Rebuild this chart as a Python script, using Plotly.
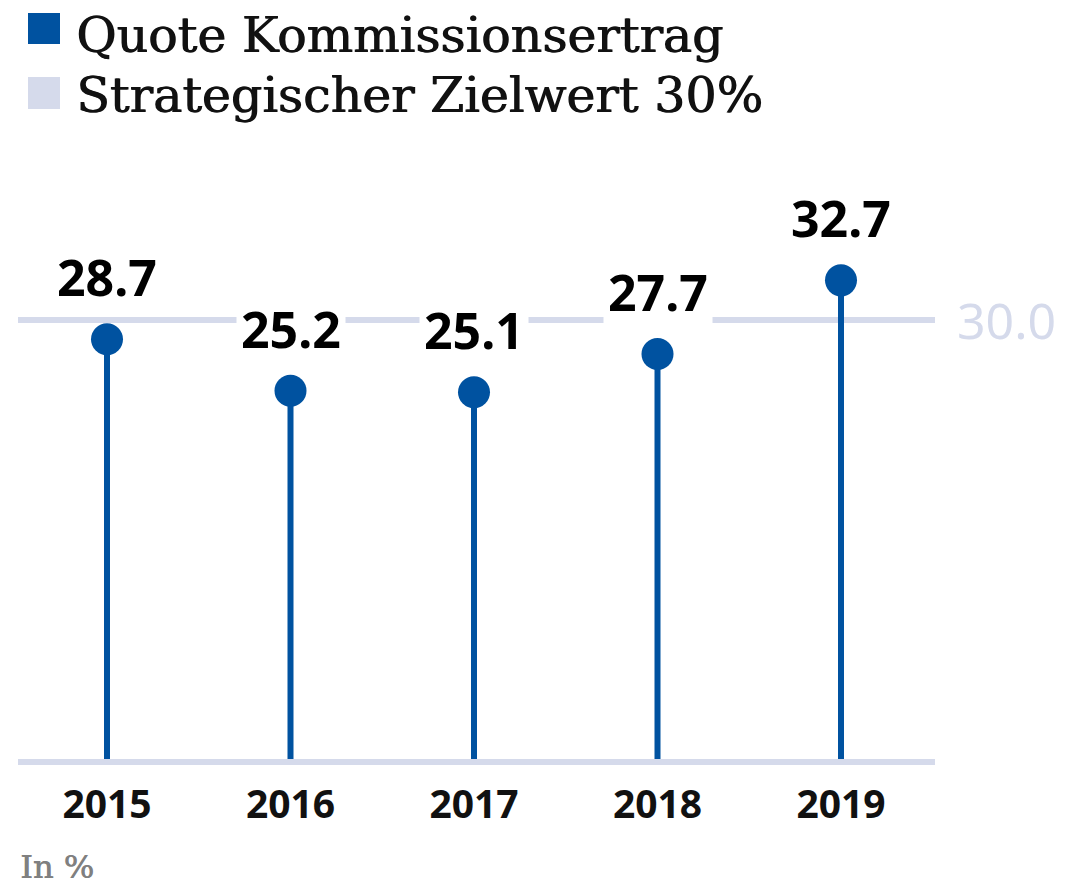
import plotly.graph_objects as go

years = ["2015", "2016", "2017", "2018", "2019"]
quote = [28.7, 25.2, 25.1, 27.7, 32.7]
target_value = 30.0
legend_labels = ["Quote Kommissionsertrag", "Strategischer Zielwert 30%"]
unit_label = "In %"

BLUE = "#0052a0"
LIGHT = "#d5daeb"
OFF = 8                      # browser body margin
W, H = 1079 - OFF, 887 - OFF
BASE_PX = 762                # baseline (reference px)
BOTTOM_PX = 769              # plot-area bottom (reference px)
PH = BOTTOM_PX - OFF         # plot height in figure px
MB = H - PH
SCALE = 14.73                # px per unit
X0PX, DX = 107, 183.5


def py(px):  # reference pixel y -> paper y
    return (PH - (px - OFF)) / PH


def pxx(px):  # reference pixel x -> paper x
    return (px - OFF) / W


# stems
sx, sy = [], []
for yr, v in zip(years, quote):
    sx += [yr, yr, None]
    sy += [0, v, None]

fig = go.Figure()
fig.add_trace(go.Scatter(x=sx, y=sy, mode="lines", line=dict(color=BLUE, width=6),
                         hoverinfo="skip", showlegend=False, cliponaxis=False))
fig.add_trace(go.Scatter(x=years, y=quote, mode="markers",
                         marker=dict(color=BLUE, size=32, line=dict(width=0)),
                         showlegend=False, cliponaxis=False))

shapes = [
    dict(type="line", xref="paper", yref="y", x0=pxx(18), x1=pxx(935),
         y0=target_value, y1=target_value, line=dict(color=LIGHT, width=6), layer="below"),
    dict(type="line", xref="paper", yref="y", x0=pxx(18), x1=pxx(935),
         y0=0, y1=0, line=dict(color=LIGHT, width=6), layer="above"),
    dict(type="rect", xref="paper", yref="paper", x0=pxx(28), x1=pxx(60),
         y0=py(44), y1=py(13), fillcolor=BLUE, line=dict(width=0)),
    dict(type="rect", xref="paper", yref="paper", x0=pxx(28), x1=pxx(60),
         y0=py(109), y1=py(77), fillcolor=LIGHT, line=dict(width=0)),
]

annotations = []
for i, v in enumerate(quote):
    annotations.append(dict(x=i, y=v, xref="x", yref="y", text=f"{v:.1f}",
                            showarrow=False, yshift=62, yanchor="middle",
                            font=dict(family="Noto Sans", size=50, color="#000000", weight="bold"),
                            bgcolor="white", borderpad=4))
annotations.append(dict(x=pxx(955), y=target_value, xref="paper", yref="y",
                        text=f"{target_value:.1f}", showarrow=False,
                        xanchor="left", yanchor="middle",
                        font=dict(family="Noto Sans", size=50, color=LIGHT)))
for i, lab in enumerate(legend_labels):
    annotations.append(dict(x=pxx(74), y=py(35 + 61 * i), xref="paper", yref="paper",
                            text=lab, showarrow=False, xanchor="left", yanchor="middle",
                            font=dict(family="DejaVu Serif", size=49, color="#111111",
                                      shadow="1px 0px 0px #111111")))
annotations.append(dict(x=pxx(18), y=py(867), xref="paper", yref="paper",
                        text=unit_label, showarrow=False, xanchor="left", yanchor="middle",
                        font=dict(family="DejaVu Serif", size=32, color="#808080",
                                  shadow="0.8px 0px 0px #808080")))

ymin = -(BOTTOM_PX - BASE_PX) / SCALE
ymax = (BASE_PX - OFF) / SCALE
fig.update_layout(
    width=W, height=H,
    margin=dict(l=0, r=0, t=0, b=MB, pad=0),
    paper_bgcolor="white", plot_bgcolor="white",
    shapes=shapes, annotations=annotations,
    xaxis=dict(type="category", range=[(OFF - X0PX) / DX, (OFF + W - X0PX) / DX],
               showgrid=False, zeroline=False, showline=False, ticks="",
               tickfont=dict(family="Noto Sans", size=39, color="#111111", weight="bold"),
               ticklabelstandoff=9),
    yaxis=dict(range=[ymin, ymax], visible=False, showgrid=False, zeroline=False),
)

fig.write_html("out.html")
